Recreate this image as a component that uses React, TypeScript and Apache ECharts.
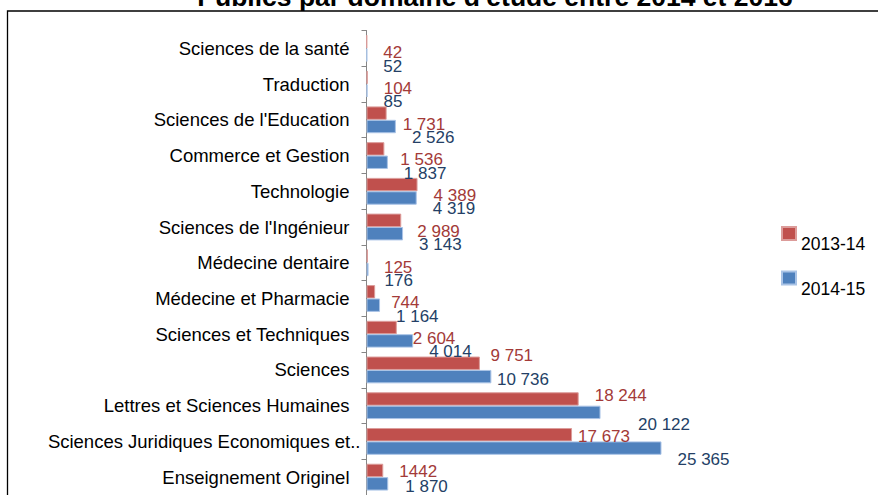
import { useEffect, useRef } from 'react';
import * as echarts from 'echarts';

const chartTitle = "Publics par domaine d'étude entre 2014 et 2016";
const categories = [
  'Sciences de la santé',
  'Traduction',
  "Sciences de l'Education",
  'Commerce et Gestion',
  'Technologie',
  "Sciences de l'Ingénieur",
  'Médecine dentaire',
  'Médecine et Pharmacie',
  'Sciences et Techniques',
  'Sciences',
  'Lettres et Sciences Humaines',
  'Sciences Juridiques Economiques et..',
  'Enseignement Originel',
];
const seriesNames = ['2013-14', '2014-15'];
const values2013 = [42, 104, 1731, 1536, 4389, 2989, 125, 744, 2604, 9751, 18244, 17673, 1442];
const values2014 = [52, 85, 2526, 1837, 4319, 3143, 176, 1164, 4014, 10736, 20122, 25365, 1870];
// labels shown without thousands separator in the original
const ungrouped2013 = [12];
// the truncated category label sits closer to the axis in the original
const truncatedIndex = 11;

// label placement tweaks (style only)
const defaultOffset: [number, number] = [16, 11];
const offsets2013: Record<number, [number, number]> = {
  9: [10.6, -7.75],
  10: [16, -3.75],
  11: [6, 2.25],
  12: [16, 1.25],
};
const offsets2014: Record<number, [number, number]> = {
  9: [5.6, 2.75],
  10: [37.5, 11.75],
  12: [17, 2.75],
};

const FONT = '"Liberation Sans", Arial, sans-serif';

function fmt(v: number, group: boolean) {
  const s = String(v);
  return group ? s.replace(/\B(?=(\d{3})+(?!\d))/g, ' ') : s;
}

export default function App() {
  const ref = useRef<HTMLDivElement>(null);
  useEffect(() => {
    if (!ref.current) return;
    const chart = echarts.init(ref.current, undefined, { renderer: 'svg' });
    const mk = (
      vals: number[],
      offs: Record<number, [number, number]>,
      ungrouped: number[],
    ) =>
      vals.map((v, i) => ({
        value: v,
        label: {
          offset: offs[i] ?? defaultOffset,
          formatter: () => fmt(v, !ungrouped.includes(i)),
        },
      }));
    chart.setOption({
      animation: false,
      backgroundColor: '#ffffff',
      graphic: [
        {
          type: 'rect',
          shape: { x: 7.5, y: 11, width: 1000, height: 1000 },
          style: { fill: 'none', stroke: '#000', lineWidth: 1.3 },
          silent: true,
        },
        {
          type: 'text',
          x: 495,
          y: -2.7,
          style: {
            text: chartTitle,
            font: `bold 26.5px ${FONT}`,
            fill: '#000',
            textAlign: 'center',
            textVerticalAlign: 'middle',
            align: 'center',
            verticalAlign: 'middle',
          },
          silent: true,
        },
      ],
      legend: {
        orient: 'vertical',
        left: 781,
        top: 226,
        padding: 0,
        itemWidth: 14,
        itemHeight: 13,
        itemGap: 17.5,
        icon: 'rect',
        data: seriesNames,
        formatter: (name: string) => `{a|${name}}`,
        textStyle: {
          fontSize: 17.5,
          color: '#000',
          fontFamily: FONT,
          rich: {
            a: {
              fontSize: 17.5,
              color: '#000',
              fontFamily: FONT,
              padding: [21, 0, 0, 0],
            },
          },
        },
      },
      grid: { left: 366.5, top: 30.5, width: 348.9, height: 468 },
      xAxis: { type: 'value', min: 0, max: 30000, show: false },
      yAxis: {
        type: 'category',
        data: categories,
        inverse: true,
        axisLine: { show: true, lineStyle: { color: '#868686', width: 1 } },
        axisTick: { show: true, length: 5, lineStyle: { color: '#868686' } },
        axisLabel: {
          fontSize: 18.5,
          color: '#000',
          margin: 6,
          fontFamily: FONT,
          formatter: (v: string, i: number) => (i === truncatedIndex ? `{t|${v}}` : `{n|${v}}`),
          rich: {
            n: { fontSize: 18.5, color: '#000', fontFamily: FONT, padding: [0, 11, 0, 0] },
            t: { fontSize: 18.5, color: '#000', fontFamily: FONT },
          },
        },
        splitLine: { show: false },
      },
      series: [
        {
          name: seriesNames[0],
          type: 'bar',
          barWidth: 13.4,
          barGap: '0%',
          itemStyle: { color: '#C0504D', borderColor: '#dc9c9a', borderWidth: 1 },
          label: {
            show: true,
            position: 'right',
            distance: 0,
            fontSize: 17,
            color: '#a33a38',
            fontFamily: FONT,
          },
          data: mk(values2013, offsets2013, ungrouped2013),
        },
        {
          name: seriesNames[1],
          type: 'bar',
          barWidth: 13.4,
          barGap: '0%',
          itemStyle: { color: '#4F81BD', borderColor: '#a9c3e6', borderWidth: 1 },
          label: {
            show: true,
            position: 'right',
            distance: 0,
            fontSize: 17,
            color: '#243f66',
            fontFamily: FONT,
          },
          data: mk(values2014, offsets2014, []),
        },
      ],
    });
    return () => chart.dispose();
  }, []);
  return (
    <div
      ref={ref}
      style={{ position: 'fixed', left: 0, top: 0, width: 878, height: 495, background: '#fff' }}
    />
  );
}
